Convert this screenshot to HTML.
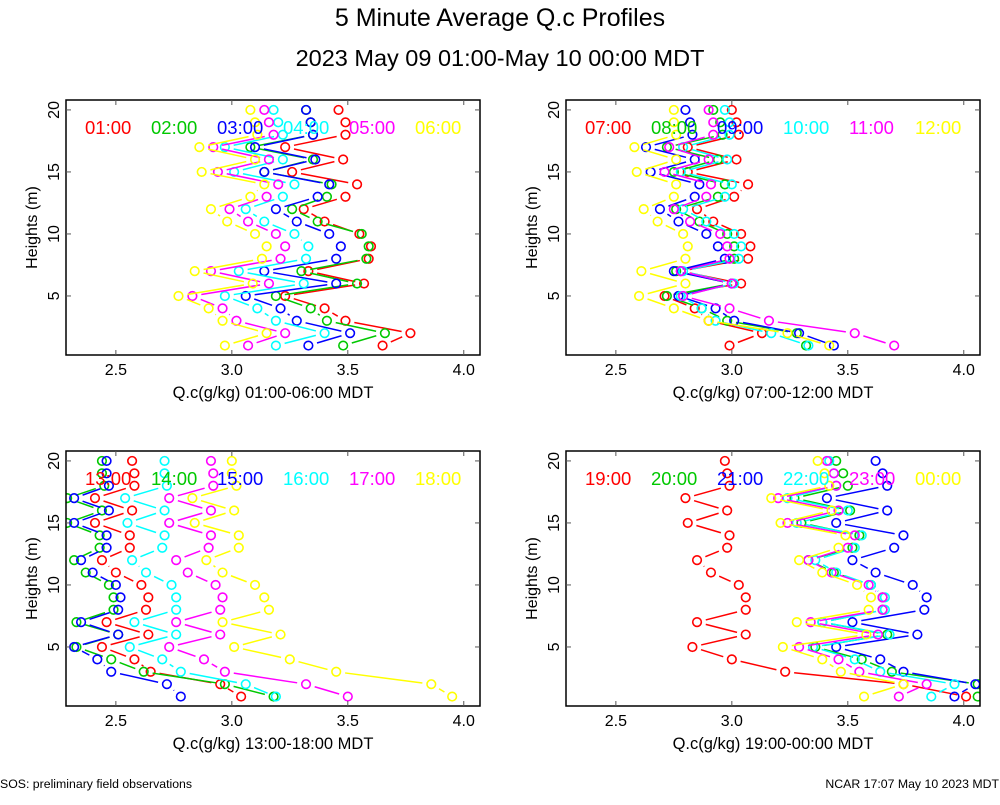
<!DOCTYPE html>
<html><head><meta charset="utf-8"><style>
body{margin:0;background:#fff;}
svg text{font-family:"Liberation Sans",sans-serif;}
</style></head><body>
<svg id="c" width="1000" height="800" xmlns="http://www.w3.org/2000/svg">
<rect width="1000" height="800" fill="#fff"/>
<text x="500" y="26" font-size="25" text-anchor="middle">5 Minute Average Q.c Profiles</text>
<text x="500" y="66" font-size="23.5" text-anchor="middle">2023 May 09 01:00-May 10 00:00 MDT</text>
<text x="0" y="788" font-size="12.3">SOS: preliminary field observations</text>
<text x="999" y="788" font-size="12.3" text-anchor="end">NCAR 17:07 May 10 2023 MDT</text>
</svg>
<script>
const heights=[1,2,3,4,5,6,7,8,9,10,11,12,13,14,15,16,17,18,19,20];
const colors=['#ff0000','#00c800','#0000ff','#00ffff','#ff00ff','#ffff00'];
const xTicks=[2.5,3.0,3.5,4.0];
const xTickLabels=['2.5','3.0','3.5','4.0'];
const yTicks=[5,10,15,20];
const panelLabels=[['01:00','02:00','03:00','04:00','05:00','06:00'],['07:00','08:00','09:00','10:00','11:00','12:00'],['13:00','14:00','15:00','16:00','17:00','18:00'],['19:00','20:00','21:00','22:00','23:00','00:00']];
const panelTitles=['Q.c(g/kg) 01:00-06:00 MDT','Q.c(g/kg) 07:00-12:00 MDT','Q.c(g/kg) 13:00-18:00 MDT','Q.c(g/kg) 19:00-00:00 MDT'];
const p1s1=[3.65,3.77,3.49,3.40,3.23,3.57,3.33,3.59,3.60,3.55,3.40,3.31,3.49,3.54,3.26,3.48,3.23,3.49,3.49,3.46];
const p1s2=[3.48,3.66,3.41,3.34,3.19,3.54,3.30,3.58,3.59,3.56,3.37,3.26,3.41,3.43,3.14,3.35,3.08,3.35,3.34,3.32];
const p1s3=[3.33,3.51,3.28,3.21,3.06,3.45,3.14,3.45,3.47,3.42,3.28,3.19,3.37,3.42,3.14,3.36,3.10,3.35,3.34,3.32];
const p1s4=[3.19,3.40,3.19,3.11,2.97,3.31,3.03,3.32,3.33,3.27,3.14,3.06,3.22,3.27,3.01,3.22,2.97,3.22,3.20,3.18];
const p1s5=[3.07,3.23,3.02,2.96,2.83,3.16,2.91,3.21,3.23,3.19,3.07,2.99,3.15,3.20,2.94,3.16,2.92,3.18,3.16,3.14];
const p1s6=[2.97,3.15,2.96,2.90,2.77,3.09,2.84,3.13,3.15,3.10,2.98,2.91,3.08,3.14,2.87,3.10,2.86,3.11,3.10,3.08];
const p2s1=[2.99,3.13,2.90,2.84,2.71,3.04,2.78,3.07,3.08,3.04,2.92,2.85,3.01,3.07,2.81,3.02,2.81,3.03,3.02,3.00];
const p2s2=[3.32,3.28,2.98,2.87,2.72,3.00,2.76,3.01,3.01,2.98,2.86,2.76,2.94,2.97,2.75,2.94,2.72,2.96,2.95,2.92];
const p2s3=[3.44,3.29,3.01,2.93,2.77,3.00,2.75,2.97,2.94,2.89,2.77,2.69,2.84,2.86,2.65,2.84,2.63,2.83,2.82,2.80];
const p2s4=[3.33,3.17,2.93,2.87,2.78,3.01,2.79,3.03,3.04,3.01,2.89,2.79,2.97,3.00,2.78,2.98,2.79,2.99,2.99,2.97];
const p2s5=[3.70,3.53,3.16,2.99,2.79,3.00,2.78,2.99,2.98,2.95,2.82,2.75,2.89,2.91,2.71,2.90,2.73,2.92,2.92,2.90];
const p2s6=[3.42,3.24,2.90,2.75,2.60,2.80,2.61,2.80,2.81,2.79,2.68,2.62,2.75,2.76,2.59,2.76,2.58,2.76,2.75,2.75];
const p3s1=[3.04,2.95,2.65,2.58,2.44,2.64,2.46,2.63,2.64,2.61,2.50,2.44,2.56,2.56,2.41,2.57,2.41,2.58,2.58,2.57];
const p3s2=[3.18,2.97,2.62,2.48,2.33,2.51,2.33,2.49,2.49,2.47,2.37,2.32,2.43,2.43,2.29,2.44,2.29,2.45,2.44,2.44];
const p3s3=[2.78,2.72,2.48,2.42,2.32,2.51,2.35,2.51,2.52,2.50,2.40,2.35,2.46,2.46,2.32,2.47,2.32,2.47,2.46,2.46];
const p3s4=[3.19,3.06,2.78,2.70,2.56,2.76,2.58,2.76,2.76,2.74,2.63,2.57,2.70,2.71,2.55,2.71,2.54,2.72,2.71,2.71];
const p3s5=[3.50,3.32,2.97,2.88,2.73,2.95,2.76,2.95,2.96,2.93,2.81,2.76,2.90,2.91,2.73,2.91,2.73,2.92,2.92,2.91];
const p3s6=[3.95,3.86,3.45,3.25,3.01,3.21,2.96,3.16,3.14,3.10,2.96,2.89,3.03,3.03,2.84,3.01,2.83,3.02,3.00,3.00];
const p4s1=[4.01,3.74,3.23,3.00,2.83,3.06,2.85,3.06,3.06,3.03,2.91,2.85,2.98,2.99,2.81,2.98,2.80,2.99,2.98,2.97];
const p4s2=[4.06,4.06,3.69,3.56,3.36,3.67,3.39,3.65,3.65,3.60,3.44,3.33,3.52,3.55,3.30,3.51,3.27,3.50,3.48,3.45];
const p4s3=[3.96,4.05,3.74,3.64,3.45,3.80,3.52,3.83,3.84,3.78,3.62,3.52,3.70,3.74,3.45,3.67,3.41,3.67,3.65,3.62];
const p4s4=[3.86,3.96,3.64,3.53,3.35,3.68,3.39,3.66,3.66,3.60,3.45,3.36,3.53,3.56,3.28,3.50,3.24,3.45,3.44,3.42];
const p4s5=[3.72,3.84,3.55,3.46,3.29,3.63,3.34,3.65,3.65,3.59,3.43,3.33,3.50,3.53,3.24,3.46,3.20,3.45,3.44,3.41];
const p4s6=[3.57,3.74,3.47,3.39,3.22,3.58,3.28,3.59,3.60,3.54,3.39,3.29,3.46,3.49,3.21,3.43,3.17,3.42,3.40,3.37];
const panelData=[[p1s1,p1s2,p1s3,p1s4,p1s5,p1s6],[p2s1,p2s2,p2s3,p2s4,p2s5,p2s6],[p3s1,p3s2,p3s3,p3s4,p3s5,p3s6],[p4s1,p4s2,p4s3,p4s4,p4s5,p4s6]];
const xMin=2.285,xMax=4.07,yMin=0.24,yMax=20.8;
const boxes=[[66,100],[566,100],[66,451],[566,451]];
const W=414,H=255;
const NS='http://www.w3.org/2000/svg';
const svg=document.getElementById('c');
function mk(tag,attrs,parent){const e=document.createElementNS(NS,tag);for(const k in attrs)e.setAttribute(k,attrs[k]);(parent||svg).appendChild(e);return e;}
panelData.forEach((series,pi)=>{
  const [bx,by]=boxes[pi];
  const sx=v=>bx+(v-xMin)/(xMax-xMin)*W;
  const sy=v=>by+H-(v-yMin)/(yMax-yMin)*H;
  const g=mk('g',{});
  
  
  const clipId='clip'+pi;
  const cp=mk('clipPath',{id:clipId},g);mk('rect',{x:bx,y:by,width:W,height:H},cp);
  const plot=mk('g',{'clip-path':'url(#'+clipId+')'},g);
  series.forEach((vals,si)=>{
    const sg=mk('g',{},plot);
    
    
    for(let i=0;i<vals.length-1;i++){
      const x1=sx(vals[i]),y1=sy(heights[i]),x2=sx(vals[i+1]),y2=sy(heights[i+1]);
      const dx=x2-x1,dy=y2-y1,L=Math.hypot(dx,dy),gap=9;
      if(L>2*gap){const ux=dx/L,uy=dy/L;
        const ln=mk('line',{x1:x1+ux*gap,y1:y1+uy*gap,x2:x2-ux*gap,y2:y2-uy*gap,stroke:colors[si],'stroke-width':1.5},sg);
        
        }
    }
    vals.forEach((v,i)=>{
      const c=mk('circle',{cx:sx(v),cy:sy(heights[i]),r:4.3,fill:'none',stroke:colors[si],'stroke-width':1.6},sg);
      
      
    });
  });
  const fr=mk('rect',{x:bx,y:by,width:W,height:H,fill:'none',stroke:'#000','stroke-width':1.5},g);
  
  
  xTicks.forEach((t,i)=>{
    const x=sx(t);
    mk('line',{x1:x,y1:by+H,x2:x,y2:by+H-5,stroke:'#555'},g);
    mk('line',{x1:x,y1:by,x2:x,y2:by+5,stroke:'#555'},g);
    const tx=mk('text',{x:x,y:by+H+20,'font-size':16,'text-anchor':'middle'},g);
    tx.textContent=xTickLabels[i];
    
    
  });
  yTicks.forEach(t=>{
    const y=sy(t);
    mk('line',{x1:bx,y1:y,x2:bx+5,y2:y,stroke:'#555'},g);
    mk('line',{x1:bx+W,y1:y,x2:bx+W-5,y2:y,stroke:'#555'},g);
    const tx=mk('text',{x:bx-7,y:y,'font-size':16,'text-anchor':'middle',transform:'rotate(-90 '+(bx-7)+' '+y+')'},g);
    tx.textContent=String(t);
    
    
  });
  const xt=mk('text',{x:bx+W/2,y:by+H+43,'font-size':16.5,'text-anchor':'middle'},g);
  xt.textContent=panelTitles[pi];
  
  
  const yx=bx-29,yy=by+H/2;
  const yt=mk('text',{x:yx,y:yy,'font-size':16,'text-anchor':'middle',transform:'rotate(-90 '+yx+' '+yy+')'},g);
  yt.textContent='Heights (m)';
  
  
  panelLabels[pi].forEach((lab,si)=>{
    const t=mk('text',{x:bx+19+si*66,y:by+34,'font-size':18.5,fill:colors[si]},g);
    t.textContent=lab;
    
    
  });
});
</script>
</body></html>
